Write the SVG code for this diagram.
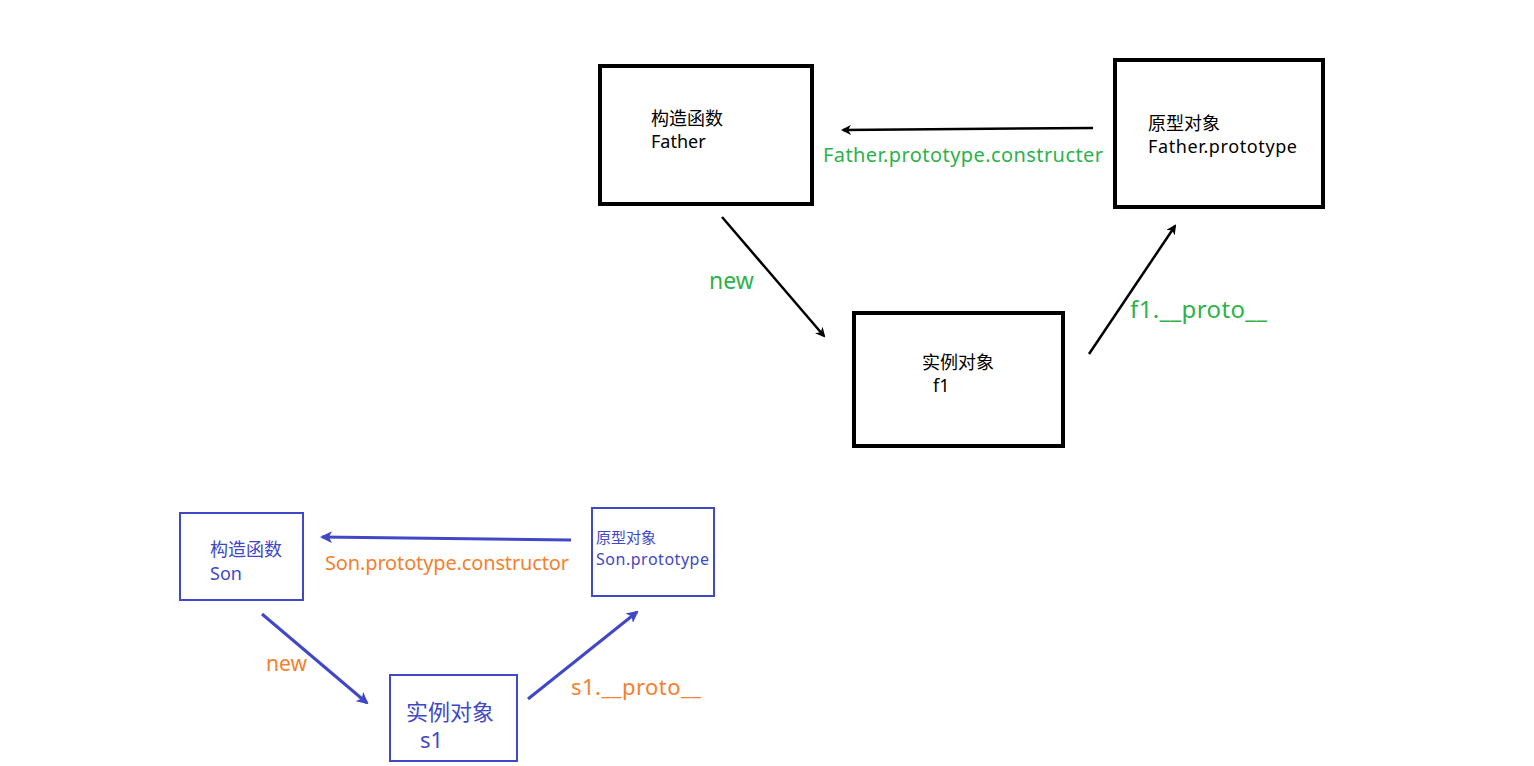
<svg xmlns="http://www.w3.org/2000/svg" width="1534" height="766" viewBox="0 0 1534 766">
<style>
text{font-family:"Noto Sans","Noto Sans CJK SC",sans-serif}
.bk{fill:#fff;stroke:#000;stroke-width:4}
.bl{fill:#fff;stroke:#4048c8;stroke-width:2}
.ck{stroke:#000;stroke-width:2.5;fill:none}
.cb{stroke:#4048c8;stroke-width:3;fill:none}
.t{fill:#000;font-size:18px}
.tb{fill:#4048c8}
.g{fill:#2db24a}
.o{fill:#f5802e}
</style>
<defs>
<marker id="ak" markerWidth="10" markerHeight="10" refX="8" refY="5" orient="auto" markerUnits="userSpaceOnUse"><path d="M0,0 L10,5 L0,10 L3,5 Z" fill="#000"/></marker>
<marker id="ab" markerWidth="12" markerHeight="12" refX="10" refY="6" orient="auto" markerUnits="userSpaceOnUse"><path d="M0,0 L12,6 L0,12 L3,6 Z" fill="#4048c8"/></marker>
</defs>
<rect width="1534" height="766" fill="#fff"/>
<g id="father">
<rect class="bk" x="600" y="66" width="212" height="138"/>
<text class="t" x="651" y="125">构造函数</text>
<text class="t" x="651" y="148">Father</text>
</g>
<g id="father-prototype">
<rect class="bk" x="1115" y="60" width="208" height="147"/>
<text class="t" x="1148" y="130">原型对象</text>
<text class="t" x="1148" y="153" textLength="149">Father.prototype</text>
</g>
<g id="f1">
<rect class="bk" x="854" y="313" width="209" height="133"/>
<text class="t" x="922" y="369">实例对象</text>
<text class="t" x="933" y="392">f1</text>
</g>
<g id="son">
<rect class="bl" x="180" y="513" width="123" height="87"/>
<text class="tb" font-size="18" x="210" y="556">构造函数</text>
<text class="tb" font-size="18" x="210" y="580">Son</text>
</g>
<g id="son-prototype">
<rect class="bl" x="592" y="508" width="122" height="88"/>
<text class="tb" font-size="15" x="596" y="543">原型对象</text>
<text class="tb" font-size="16" x="596" y="565" textLength="113">Son.prototype</text>
</g>
<g id="s1">
<rect class="bl" x="390" y="675" width="127" height="86"/>
<text class="tb" font-size="22" x="406" y="720">实例对象</text>
<text class="tb" font-size="22" x="420" y="748">s1</text>
</g>
<g id="connectors">
<line class="ck" x1="1093" y1="128" x2="843" y2="130" marker-end="url(#ak)"/>
<line class="ck" x1="722" y1="217" x2="824" y2="336" marker-end="url(#ak)"/>
<line class="ck" x1="1089" y1="354" x2="1175" y2="226" marker-end="url(#ak)"/>
<line class="cb" x1="571" y1="540" x2="322" y2="537" marker-end="url(#ab)"/>
<line class="cb" x1="262" y1="614" x2="367" y2="703" marker-end="url(#ab)"/>
<line class="cb" x1="528" y1="699" x2="637" y2="612" marker-end="url(#ab)"/>
<text class="g" font-size="20" x="823" y="162" textLength="280">Father.prototype.constructer</text>
<text class="g" font-size="23" x="709" y="289">new</text>
<text class="g" font-size="24" x="1130" y="318" textLength="137">f1.__proto__</text>
<text class="o" font-size="20" x="325" y="570" textLength="244">Son.prototype.constructor</text>
<text class="o" font-size="21" x="266" y="671">new</text>
<text class="o" font-size="22" x="571" y="695" textLength="130">s1.__proto__</text>
</g>
</svg>
